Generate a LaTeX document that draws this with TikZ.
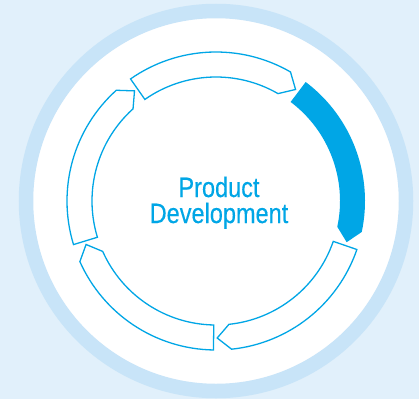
\documentclass[tikz,border=0pt]{standalone}
\usepackage{fontspec}
\newfontfamily\labelfont[FakeStretch=0.84, FakeBold=0.3]{Liberation Sans}
\definecolor{pagebg}{HTML}{E1F0FB}
\definecolor{ringblue}{HTML}{C8E4F8}
\definecolor{cycleblue}{HTML}{00A6E6}

\begin{document}
\begin{tikzpicture}[
    x=1pt, y=1pt,
    stage/.style={draw=cycleblue, line width=1.3pt, fill=white, line join=miter},
    activestage/.style={fill=cycleblue, draw=none},
    title/.style={text=cycleblue, font=\labelfont\fontsize{28}{28}\selectfont, anchor=base, inner sep=0pt}
]
    % Background and frame
    \useasboundingbox (-216,-198) rectangle (203,201);
    \fill[pagebg] (-216,-198) rectangle (203,201);
    \draw[ringblue, line width=14.5pt, fill=white] (0,0) circle[radius=190];

    % Cycle stages (tail at \t, head tip 70.5 degrees further clockwise)
    \foreach \t in {125,197,269,341}{
        \draw[stage] (\t:124) arc[start angle=\t, end angle=\t-65, radius=124]
            -- (\t-70.5:137) -- (\t-65:149)
            arc[start angle=\t-65, end angle=\t, radius=149] -- cycle;
    }
    % Current stage
    \fill[activestage] (53:124) arc[start angle=53, end angle=-12, radius=124]
        -- (-17.5:137) -- (-12:149)
        arc[start angle=-12, end angle=53, radius=149] -- cycle;

    % Centre label
    \node[title] (product) at (3,4) {Product};
    \node[title] (development) at (3,-22) {Development};
\end{tikzpicture}
\end{document}
